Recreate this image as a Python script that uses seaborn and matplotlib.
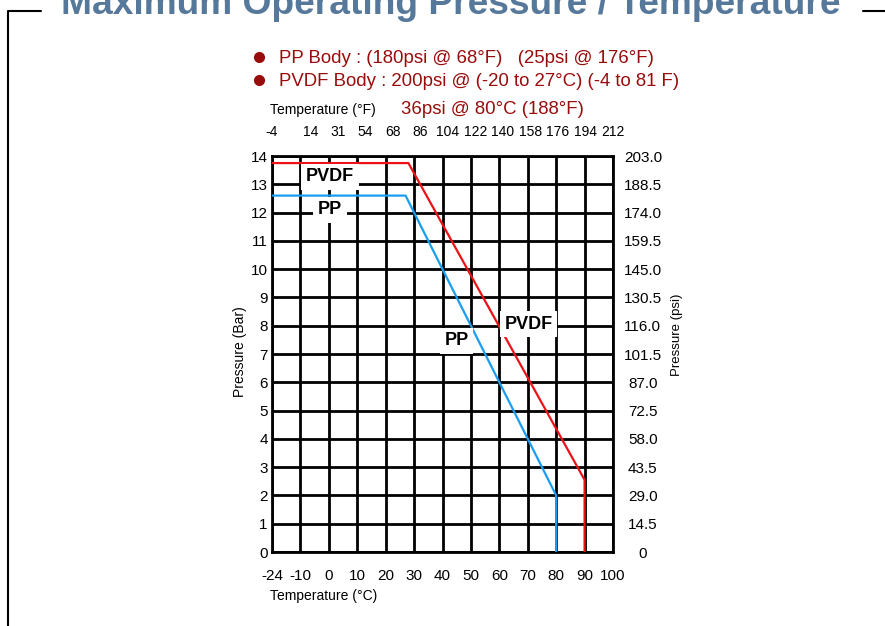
import numpy as np
import pandas as pd
import matplotlib
matplotlib.use("Agg")
from matplotlib import pyplot as plt
from matplotlib.lines import Line2D
import seaborn as sns

# tick values / labels (evenly spaced on the chart)
temp_c_ticks = [-24, -10, 0, 10, 20, 30, 40, 50, 60, 70, 80, 90, 100]
temp_f_labels = ["-4", "14", "31", "54", "68", "86", "104", "122", "140", "158", "176", "194", "212"]
bar_ticks = list(range(15))
psi_labels = ["0", "14.5", "29.0", "43.5", "58.0", "72.5", "87.0", "101.5",
              "116.0", "130.5", "145.0", "159.5", "174.0", "188.5", "203.0"]

# rating curves (deg C, bar)
pvdf_temp = [-24, 28, 90, 90]
pvdf_bar = [13.75, 13.75, 2.55, 0]
pp_temp = [-24, 27, 80, 80]
pp_bar = [12.6, 12.6, 2.0, 0]

notes = ["PP Body : (180psi @ 68°F)   (25psi @ 176°F)",
         "PVDF Body : 200psi @ (-20 to 27°C) (-4 to 81 F)",
         "36psi @ 80°C (188°F)"]

RED = "#ec1216"
BLUE = "#189ef0"
DARKRED = "#990c0c"
W, H = 885, 626

sns.set_style("white")
plt.rcParams["font.family"] = ["Liberation Sans", "DejaVu Sans"]
plt.rcParams["text.color"] = "black"
plt.rcParams["xtick.color"] = "black"
plt.rcParams["ytick.color"] = "black"

idx = np.arange(len(temp_c_ticks))


def c_to_pos(x):
    return np.interp(x, temp_c_ticks, idx)


def pos_to_c(p):
    return np.interp(p, idx, temp_c_ticks)


df = pd.concat([
    pd.DataFrame({"temp": pvdf_temp, "bar": pvdf_bar, "body": "PVDF"}),
    pd.DataFrame({"temp": pp_temp, "bar": pp_bar, "body": "PP"}),
], ignore_index=True)

fig = plt.figure(figsize=(W / 100, H / 100), dpi=100)
ax = fig.add_axes([272 / W, 1 - 552 / H, (613 - 272) / W, (552 - 156) / H])
ax.set_xscale("function", functions=(c_to_pos, pos_to_c))

sns.lineplot(data=df, x="temp", y="bar", hue="body", palette={"PVDF": RED, "PP": BLUE},
             estimator=None, sort=False, legend=False, lw=1.6, ax=ax, zorder=3)

ax.set_xlim(-24, 100)
ax.set_ylim(0, 14)
ax.set_xticks(temp_c_ticks, labels=[str(t) for t in temp_c_ticks])
ax.set_yticks(bar_ticks)
ax.set_axisbelow(True)
ax.grid(True, color="black", lw=2)
ax.tick_params(axis="both", length=0, labelsize=11)
ax.tick_params(axis="x", pad=12)
ax.tick_params(axis="y", pad=3)
ax.set_xlabel("")
ax.set_ylabel("")
for s in ax.spines.values():
    s.set_color("black")
    s.set_linewidth(2)

# psi on the right
ax2 = ax.twinx()
ax2.set_ylim(0, 14)
ax2.set_yticks(bar_ticks, labels=psi_labels)
ax2.tick_params(axis="y", length=0, labelsize=11, pad=21.5)
for lab in ax2.get_yticklabels():
    lab.set_horizontalalignment("center")
for s in ax2.spines.values():
    s.set_visible(False)

# deg F on top
secx = ax.secondary_xaxis("top", functions=(c_to_pos, pos_to_c))
secx.set_xticks(idx, labels=temp_f_labels)
secx.tick_params(length=0, labelsize=10, pad=12)
secx.spines["top"].set_visible(False)

# curve labels
box = dict(boxstyle="square,pad=0.25", fc="white", ec="none")
for x, y, s in [(0.4, 13.26, "PVDF"), (0.4, 12.1, "PP"), (70.4, 8.06, "PVDF"), (45, 7.46, "PP")]:
    ax.text(x, y, s, ha="center", va="center", fontsize=13, fontweight="bold", bbox=box, zorder=4)

fig.text(270 / W, 1 - 596 / H, "Temperature (°C)", fontsize=10, ha="left", va="center")
fig.text(270 / W, 1 - 114 / H, "Temperature (°F)", fontsize=10, ha="left", va="baseline")
fig.text(240 / W, 1 - 352 / H, "Pressure (Bar)", fontsize=10, rotation=90, ha="center", va="center")
fig.text(677 / W, 1 - 335 / H, "Pressure (psi)", fontsize=9.5, rotation=90, ha="center", va="center")

# notes with round bullets
for yb in (57, 80):
    fig.add_artist(Line2D([259 / W], [1 - yb / H], transform=fig.transFigure, marker="o",
                          ms=7, color=DARKRED, lw=0))
fig.text(279 / W, 1 - 63 / H, notes[0], fontsize=13.4, color=DARKRED, va="baseline")
fig.text(279 / W, 1 - 86 / H, notes[1], fontsize=13.4, color=DARKRED, va="baseline")
fig.text(401 / W, 1 - 114 / H, notes[2], fontsize=13.4, color=DARKRED, va="baseline")

# title and frame
fig.text(451 / W, 1 - 14 / H, "Maximum Operating Pressure / Temperature", fontsize=26.7,
         fontweight="bold", color="#56789a", ha="center", va="baseline")
fig.add_artist(Line2D([8 / W, 8 / W, 41 / W], [0, 1 - 11 / H, 1 - 11 / H],
                      transform=fig.transFigure, color="black", lw=1.5))
fig.add_artist(Line2D([863 / W, 1], [1 - 11 / H, 1 - 11 / H],
                      transform=fig.transFigure, color="black", lw=1.5))

fig.savefig("out.png", dpi=100)
